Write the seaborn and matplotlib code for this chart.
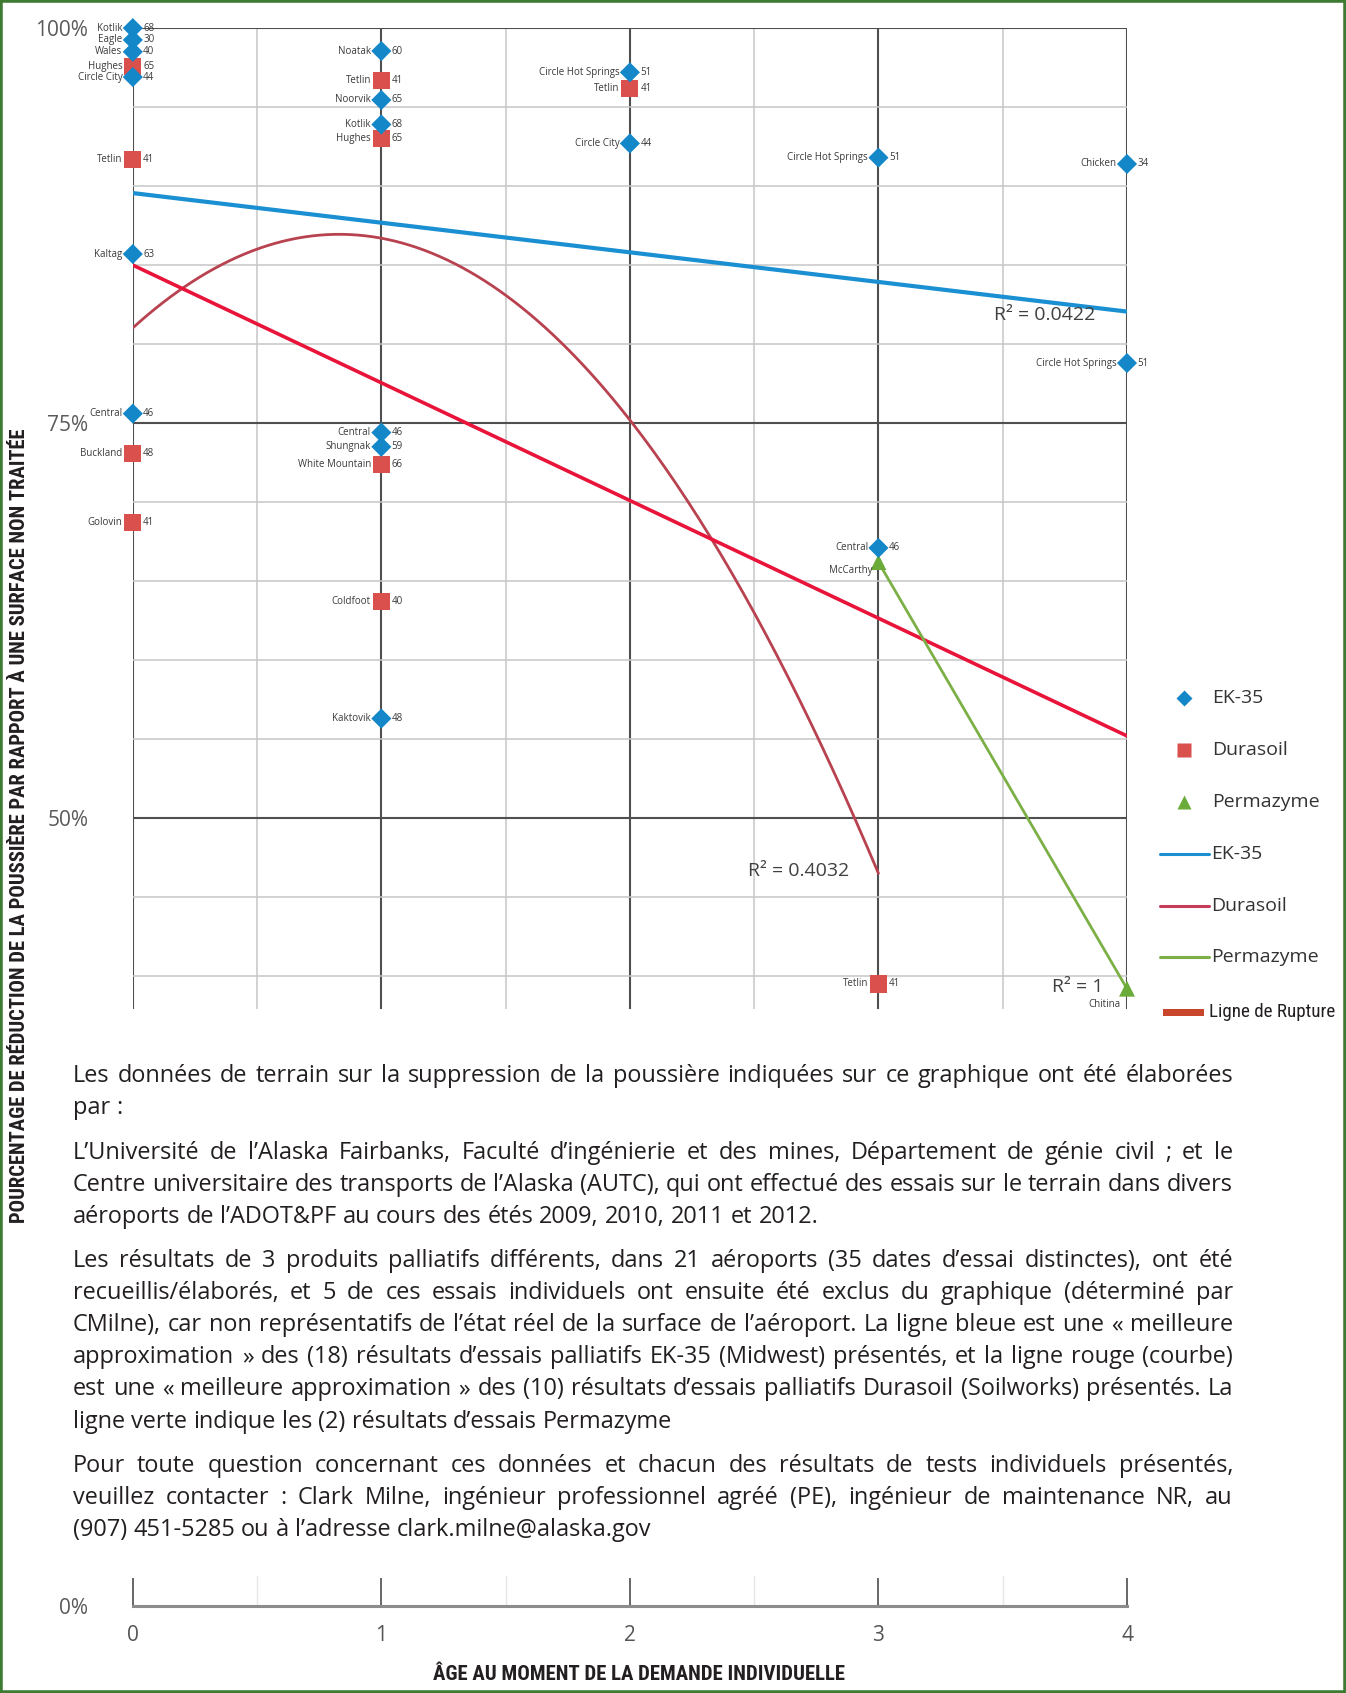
import numpy as np
import matplotlib
matplotlib.use("Agg")
import matplotlib.pyplot as plt
import seaborn as sns
from matplotlib.lines import Line2D
from matplotlib.patches import Rectangle
from matplotlib import font_manager

# ---------------------------------------------------------------- data
# EK-35 (Midwest) field results: age of application, % dust reduction, site, label number
ek35_age = [0, 0, 0, 0, 0, 0, 1, 1, 1, 1, 1, 1, 2, 2, 3, 3, 4, 4]
ek35_pct = [100.0, 99.25, 98.5, 96.9, 85.7, 75.6,
            98.55, 95.45, 93.9, 74.4, 73.5, 56.3,
            97.2, 92.7, 91.8, 67.1, 91.4, 78.8]
ek35_site = ["Kotlik", "Eagle", "Wales", "Circle City", "Kaltag", "Central",
             "Noatak", "Noorvik", "Kotlik", "Central", "Shungnak", "Kaktovik",
             "Circle Hot Springs", "Circle City", "Circle Hot Springs", "Central",
             "Chicken", "Circle Hot Springs"]
ek35_num = [68, 30, 40, 44, 63, 46, 60, 65, 68, 46, 59, 48, 51, 44, 51, 46, 34, 51]

# Durasoil (Soilworks) field results
dura_age = [0, 0, 0, 0, 1, 1, 1, 1, 2, 3]
dura_pct = [97.6, 91.7, 73.1, 68.7, 96.7, 93.0, 72.4, 63.7, 96.2, 39.5]
dura_site = ["Hughes", "Tetlin", "Buckland", "Golovin", "Tetlin", "Hughes",
             "White Mountain", "Coldfoot", "Tetlin", "Tetlin"]
dura_num = [65, 41, 48, 41, 41, 65, 66, 40, 41, 41]

# Permazyme field results
perm_age = [3, 4]
perm_pct = [66.2, 39.2]
perm_site = ["McCarthy", "Chitina"]

# failure line (Ligne de Rupture)
rupture_age = [0, 4]
rupture_pct = [85.0, 55.2]

r2_text = ["R² = 0.0422", "R² = 0.4032", "R² = 1"]
series_names = ["EK-35", "Durasoil", "Permazyme"]
y_major = [50, 75, 100]
y_major_labels = ["50%", "75%", "100%"]
x_ticks = [0, 1, 2, 3, 4]

paragraphs = [
    ["Les données de terrain sur la suppression de la poussière indiquées sur ce graphique ont été élaborées",
     "par :"],
    ["L’Université de l’Alaska Fairbanks, Faculté d’ingénierie et des mines, Département de génie civil ; et le",
     "Centre universitaire des transports de l’Alaska (AUTC), qui ont effectué des essais sur le terrain dans divers",
     "aéroports de l’ADOT&PF au cours des étés 2009, 2010, 2011 et 2012."],
    ["Les résultats de 3 produits palliatifs différents, dans 21 aéroports (35 dates d’essai distinctes), ont été",
     "recueillis/élaborés, et 5 de ces essais individuels ont ensuite été exclus du graphique (déterminé par",
     "CMilne), car non représentatifs de l’état réel de la surface de l’aéroport. La ligne bleue est une « meilleure",
     "approximation » des (18) résultats d’essais palliatifs EK-35 (Midwest) présentés, et la ligne rouge (courbe)",
     "est une « meilleure approximation » des (10) résultats d’essais palliatifs Durasoil (Soilworks) présentés. La",
     "ligne verte indique les (2) résultats d’essais Permazyme"],
    ["Pour toute question concernant ces données et chacun des résultats de tests individuels présentés,",
     "veuillez contacter : Clark Milne, ingénieur professionnel agréé (PE), ingénieur de maintenance NR, au",
     "(907) 451-5285 ou à l’adresse clark.milne@alaska.gov"],
]

# ---------------------------------------------------------------- style
sns.set_style("white")
plt.rcParams["font.family"] = ["Open Sans", "DejaVu Sans"]

C_EK = "#1487c9"
C_EK_LINE = "#1a8fd2"
C_DURA = "#d9504c"
C_DURA_LINE = "#b8424f"
C_PERM = "#6aab3a"
C_PERM_LINE = "#7cb046"
C_RUPT = "#e8143a"
C_RUPT_LEG = "#c8472c"
C_GRID_MAJ = "#4f4f4f"
C_GRID_MIN = "#c6c6c6"

# a narrow face for the axis titles, when one is installed
installed = {f.name for f in font_manager.fontManager.ttflist}
narrow = next((n for n in ["Liberation Sans Narrow", "Roboto Condensed", "Open Sans Condensed",
                           "Noto Sans Display", "DejaVu Sans"] if n in installed), "DejaVu Sans")

W, H = 1346, 1693
fig = plt.figure(figsize=(W / 100, H / 100), dpi=100)
fig.patch.set_facecolor("white")
renderer = fig.canvas.get_renderer()


def fx(px):
    return px / W


def fy(py):
    return 1 - py / H


def text_width(s, size, **kw):
    t = fig.text(0, 0, s, fontsize=size, **kw)
    w = t.get_window_extent(renderer).width
    t.remove()
    return w


def fitted_size(s, target_px, probe=20, **kw):
    return probe * target_px / text_width(s, probe, **kw)


# ---------------------------------------------------------------- main panel
X0, X4 = 132.8, 1127.0
Y100, PX_PER_PCT = 28.1, 15.8
Y_BOTTOM = 1009.0
y_low = 100 - (Y_BOTTOM - Y100) / PX_PER_PCT

ax = fig.add_axes([fx(X0), fy(Y_BOTTOM), fx(X4 - X0), (Y_BOTTOM - Y100) / H])
ax.set_xlim(0, 4)
ax.set_ylim(y_low, 100)
ax.set_xticks(x_ticks)
ax.set_xticks(np.arange(0.5, 4, 1), minor=True)
ax.set_yticks(y_major)
ax.set_yticks(np.arange(40, 100, 5), minor=True)
ax.grid(which="major", color=C_GRID_MAJ, lw=1.5)
ax.grid(which="minor", color=C_GRID_MIN, lw=1.1)
ax.set_axisbelow(True)
ax.tick_params(which="both", length=0)
ax.set_xticklabels([])
ax.set_yticklabels(y_major_labels)
ax.tick_params(axis="y", pad=32, labelsize=15, labelcolor="#5a5a5a")
for sp in ax.spines.values():
    sp.set_visible(False)

# fitted trend lines
ek_fit = np.polyfit(ek35_age, ek35_pct, 1)
xs_ek = np.linspace(0, 4, 50)
sns.lineplot(x=xs_ek, y=np.polyval(ek_fit, xs_ek), color=C_EK_LINE, lw=3, ax=ax, zorder=3)

dura_fit = np.polyfit(dura_age, dura_pct, 2)
xs_du = np.linspace(0, 3, 200)
sns.lineplot(x=xs_du, y=np.polyval(dura_fit, xs_du), color=C_DURA_LINE, lw=2, ax=ax, zorder=3)

sns.lineplot(x=rupture_age, y=rupture_pct, color=C_RUPT, lw=2.6, ax=ax, zorder=3)
sns.lineplot(x=perm_age, y=perm_pct, color=C_PERM_LINE, lw=2, ax=ax, zorder=3)

# markers
sns.scatterplot(x=ek35_age, y=ek35_pct, marker="D", s=105, color=C_EK, edgecolor="none",
                ax=ax, zorder=6, clip_on=False, legend=False)
sns.scatterplot(x=dura_age, y=dura_pct, marker="s", s=150, color=C_DURA, edgecolor="none",
                ax=ax, zorder=5, clip_on=False, legend=False)
sns.scatterplot(x=perm_age, y=perm_pct, marker="^", s=130, color=C_PERM, edgecolor="none",
                ax=ax, zorder=5, clip_on=False, legend=False)

# point labels: site to the left, number to the right
lab_kw = dict(textcoords="offset points", fontsize=7.0, color="#3a3a3a", va="center", zorder=7)
for a, p, s, n in list(zip(ek35_age, ek35_pct, ek35_site, ek35_num)) + \
        list(zip(dura_age, dura_pct, dura_site, dura_num)):
    ax.annotate(s, (a, p), xytext=(-7.5, 0), ha="right", **lab_kw)
    ax.annotate(str(n), (a, p), xytext=(7.5, 0), ha="left", **lab_kw)

perm_offsets = {"McCarthy": (-4, -6), "Chitina": (-5, -11)}
for a, p, s in zip(perm_age, perm_pct, perm_site):
    ax.annotate(s, (a, p), xytext=perm_offsets[s], ha="right", annotation_clip=True,
                clip_on=True, **lab_kw)

# coefficient of determination labels
r2_kw = dict(fontsize=14, color="#404040", va="center", ha="left", zorder=7)
ax.text(3.466, 81.84, r2_text[0], **r2_kw)
ax.text(2.476, 46.65, r2_text[1], **r2_kw)
ax.text(3.70, 39.3, r2_text[2], **r2_kw)

# ---------------------------------------------------------------- bottom axis strip
Y_ZERO = 1606.0
ax2 = fig.add_axes([fx(X0), fy(Y_ZERO), fx(X4 - X0), 30 / H])
ax2.set_xlim(0, 4)
ax2.set_ylim(0, 1)
for side in ("top", "right", "left"):
    ax2.spines[side].set_visible(False)
ax2.spines["bottom"].set_color("#8c8c8c")
ax2.spines["bottom"].set_linewidth(2.2)
ax2.set_xticks(x_ticks)
ax2.set_xticklabels([str(v) for v in x_ticks])
ax2.set_xticks(np.arange(0.5, 4, 1), minor=True)
ax2.tick_params(axis="x", which="major", bottom=True, direction="in", length=20, width=1.3,
                color="#5a5a5a", labelsize=15, labelcolor="#555555", pad=14)
ax2.tick_params(axis="x", which="minor", bottom=False, length=0)
ax2.grid(axis="x", which="minor", color="#e6e6e6", lw=1)
ax2.set_yticks([0])
ax2.set_yticklabels(["0%"])
ax2.tick_params(axis="y", length=0, pad=32, labelsize=15, labelcolor="#5a5a5a")
ax2.patch.set_alpha(0)

# ---------------------------------------------------------------- axis titles
cond = dict(family=narrow, fontstretch="condensed", fontweight="bold", color="#231f20")
ytitle = "POURCENTAGE DE RÉDUCTION DE LA POUSSIÈRE PAR RAPPORT À UNE SURFACE NON TRAITÉE"
xtitle = "ÂGE AU MOMENT DE LA DEMANDE INDIVIDUELLE"
fig.text(fx(19.5), fy(826), ytitle, rotation=90, ha="center", va="center",
         fontsize=fitted_size(ytitle, 799, **cond), **cond)
fig.text(fx(639), fy(1675), xtitle, ha="center", va="center",
         fontsize=fitted_size(xtitle, 412, **cond), **cond)

# ---------------------------------------------------------------- legend
leg_txt = dict(fontsize=14, color="#333333", va="center", ha="left")
rows = [698, 750, 802, 854, 906, 957]
marker_styles = [("D", C_EK, 8), ("s", C_DURA, 9.5), ("^", C_PERM, 9.5)]
for i, (name, (mk, col, ms)) in enumerate(zip(series_names, marker_styles)):
    fig.add_artist(Line2D([fx(1184)], [fy(rows[i])], marker=mk, ms=ms, color=col,
                          mec="none", ls="none", transform=fig.transFigure))
    fig.text(fx(1212), fy(rows[i]), name, **leg_txt)
for i, (name, col) in enumerate(zip(series_names, [C_EK_LINE, "#c83c5a", C_PERM_LINE])):
    r = rows[3 + i]
    fig.add_artist(Line2D([fx(1160), fx(1209)], [fy(r), fy(r)], color=col, lw=2.2,
                          transform=fig.transFigure))
    fig.text(fx(1211), fy(r), name, **leg_txt)

fig.add_artist(Rectangle((fx(1163), fy(1016)), fx(41), 7 / H, transform=fig.transFigure,
                         color=C_RUPT_LEG, lw=0))
cond_reg = dict(family=narrow, fontstretch="condensed", color="#231f20")
fig.text(fx(1209), fy(1012), "Ligne de Rupture", ha="left", va="center",
         fontsize=fitted_size("Ligne de Rupture", 126, **cond_reg), **cond_reg)

# ---------------------------------------------------------------- justified notes
body = dict(family=["Open Sans", "DejaVu Sans"], color="#231f20")
size = 0.5 * (fitted_size(paragraphs[1][-1], 736, **body) +
              fitted_size(paragraphs[2][-1], 609, **body))
LEFT, RIGHT = 73.0, 1233.0
space_w = text_width("a a", size, **body) - text_width("aa", size, **body)
longest = max(sum(text_width(w, size, **body) for w in ln.split()) +
              space_w * (len(ln.split()) - 1) for par in paragraphs for ln in par)
if longest > RIGHT - LEFT:
    size *= (RIGHT - LEFT) / longest
    space_w = text_width("a a", size, **body) - text_width("aa", size, **body)

y_line = 1076.2
for pi, par in enumerate(paragraphs):
    if pi:
        y_line += 44.3
    for li, line in enumerate(par):
        if li:
            y_line += 32.1
        words = line.split()
        widths = [text_width(w, size, **body) for w in words]
        last = li == len(par) - 1
        gap = space_w if (last or len(words) < 2) else \
            (RIGHT - LEFT - sum(widths)) / (len(words) - 1)
        x = LEFT
        for w, ww in zip(words, widths):
            fig.text(fx(x), fy(y_line + 6), w, fontsize=size, ha="left", va="baseline", **body)
            x += ww + gap

# ---------------------------------------------------------------- frame
fig.add_artist(Rectangle((0, 0), 1, 1, transform=fig.transFigure, fill=False,
                         ec="#3d7b33", lw=4))

fig.savefig("out.png", dpi=100, facecolor="white")
